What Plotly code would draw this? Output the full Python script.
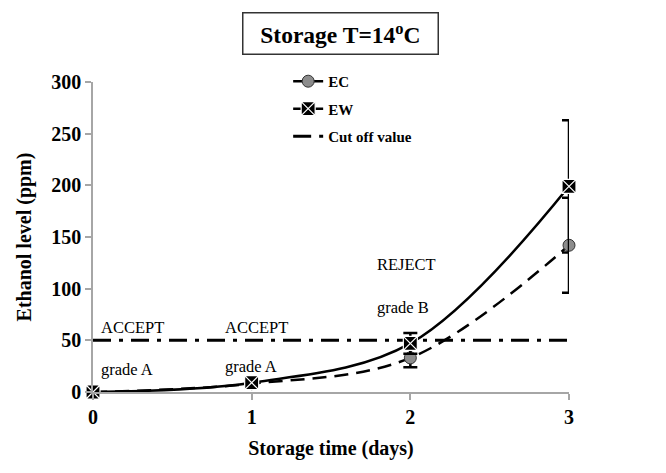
import plotly.graph_objects as go

# Ethanol level during storage at 14 °C
days = [0, 1, 2, 3]
ec_mean = [0, 8, 33, 142]
ec_err = [0.5, 2, 9, 46]
ew_mean = [0, 9, 47, 199]
ew_err = [0.5, 2, 10, 64]
cutoff_x = [0, 3]
cutoff_y = [50, 50]

y_ticks = [0, 50, 100, 150, 200, 250, 300]

# Quality verdicts written beside the points: (x, y, text)
verdicts = [
    (0.04, 62, "ACCEPT"), (0.04, 22, "grade A"),
    (0.82, 62, "ACCEPT"), (0.82, 25, "grade A"),
    (1.78, 123, "REJECT"), (1.78, 82, "grade B"),
    (3.17, 200, "REJECT"), (3.17, 172, "reject"),
]

SERIF = "Liberation Serif, Times New Roman, serif"

fig = go.Figure()

# Legend entries (empty traces carry the legend look: solid line + marker)
fig.add_trace(go.Scatter(
    x=[None], y=[None], name="<b>EC</b>", mode="lines+markers", legendgroup="ec",
    line=dict(color="black", width=2.5),
    marker=dict(symbol="circle", size=12, color="#8c8c8c",
                line=dict(color="#333333", width=1)),
))
fig.add_trace(go.Scatter(
    x=[None], y=[None], name="<b>EW</b>", mode="lines+markers", legendgroup="ew",
    line=dict(color="black", width=2.5),
    marker=dict(symbol="square-x", size=14, color="black",
                line=dict(color="white", width=1.2)),
))

# Cut-off level
fig.add_trace(go.Scatter(
    x=cutoff_x, y=cutoff_y, name="<b>Cut off value</b>", mode="lines",
    legendgroup="cut", cliponaxis=False,
    line=dict(color="black", width=3, dash="18px,8px,4px,8px"),
))

# EC: dashed smoothed curve with grey circles
fig.add_trace(go.Scatter(
    x=days, y=ec_mean, mode="lines+markers", showlegend=False, cliponaxis=False,
    line=dict(color="black", width=2.5, dash="14px,8px", shape="spline"),
    marker=dict(symbol="circle", size=12, color="#8c8c8c",
                line=dict(color="#333333", width=1)),
    error_y=dict(type="data", array=ec_err, color="black", thickness=2.5, width=7),
))

# EW: solid smoothed curve with crossed squares
fig.add_trace(go.Scatter(
    x=days, y=ew_mean, mode="lines+markers", showlegend=False, cliponaxis=False,
    line=dict(color="black", width=2.5, shape="spline"),
    marker=dict(symbol="square-x", size=14, color="black",
                line=dict(color="white", width=1.2)),
    error_y=dict(type="data", array=ew_err, color="black", thickness=2.5, width=7),
))

for x, y, t in verdicts:
    fig.add_annotation(x=x, y=y, text=t, showarrow=False, xanchor="left",
                       font=dict(family=SERIF, size=16.5, color="black"))

# Boxed title
fig.add_annotation(
    xref="paper", yref="paper", x=0.52, y=1.158, xanchor="center", yanchor="middle",
    text="&nbsp;&nbsp;<b>Storage T=14<sup>o</sup>C</b>&nbsp;&nbsp;", showarrow=False,
    font=dict(family=SERIF, size=23.5, color="black"),
    bordercolor="#333333", borderwidth=1.5, borderpad=5,
    bgcolor="white",
)

axis_font = dict(family=SERIF, size=20, color="black")

fig.update_layout(
    width=666, height=473,
    margin=dict(l=93, r=97, t=82, b=81),
    paper_bgcolor="white", plot_bgcolor="white",
    showlegend=True,
    legend=dict(
        x=0.41, y=1.055, xanchor="left", yanchor="top",
        bgcolor="rgba(0,0,0,0)", traceorder="grouped", tracegroupgap=5,
        font=dict(family=SERIF, size=15, color="black"),
        itemwidth=30,
    ),
    xaxis=dict(
        range=[0, 3], tickvals=days, ticktext=[f"<b>{d}</b>" for d in days],
        showgrid=False, zeroline=False, showline=True,
        linecolor="#a6a6a6", linewidth=1.5,
        ticks="outside", ticklen=6, tickcolor="#a6a6a6", tickwidth=1.5,
        tickfont=axis_font,
        title=dict(text="<b>Storage time (days)</b>", font=axis_font, standoff=14),
    ),
    yaxis=dict(
        range=[0, 300], tickvals=y_ticks, ticktext=[f"<b>{v}</b>" for v in y_ticks],
        showgrid=False, zeroline=False, showline=True,
        linecolor="#a6a6a6", linewidth=1.5,
        ticks="outside", ticklen=6, tickcolor="#a6a6a6", tickwidth=1.5,
        tickfont=axis_font,
        title=dict(text="<b>Ethanol level (ppm)</b>", font=axis_font, standoff=14),
    ),
)

fig.write_html("out.html")
